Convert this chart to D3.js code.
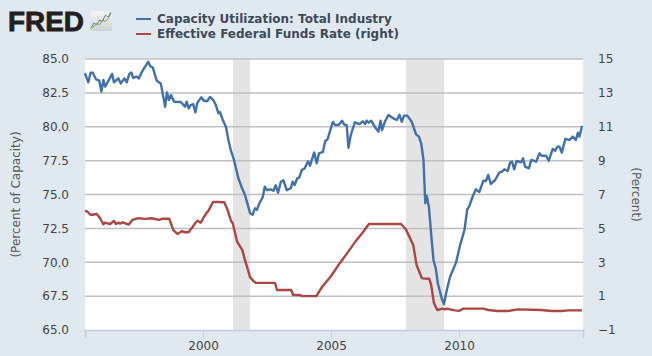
<!DOCTYPE html>
<html>
<head>
<meta charset="utf-8">
<script src="https://d3js.org/d3.v7.min.js"></script>
<style>
  html, body { margin: 0; padding: 0; background: #e1e9f0; }
  svg { display: block; }
  text { font-family: "DejaVu Sans", sans-serif; }
</style>
</head>
<body>
<div id="chart"></div>
<script>
// values, decimal years
const capYears = [1995.39,1995.52,1995.61,1995.69,1995.82,1995.95,1996.03,1996.11,1996.18,1996.45,1996.52,1996.69,1996.79,1996.93,1997.02,1997.12,1997.20,1997.28,1997.41,1997.49,1997.61,1997.86,1997.93,1998.04,1998.19,1998.35,1998.52,1998.59,1998.67,1998.75,1998.87,1999.13,1999.30,1999.36,1999.44,1999.52,1999.62,1999.70,1999.78,1999.93,2000.04,2000.17,2000.27,2000.40,2000.50,2000.60,2000.66,2000.77,2000.90,2000.99,2001.09,2001.21,2001.38,2001.51,2001.64,2001.84,2001.93,2002.03,2002.10,2002.20,2002.33,2002.41,2002.49,2002.64,2002.75,2002.84,2002.93,2003.04,2003.14,2003.27,2003.43,2003.50,2003.58,2003.68,2003.76,2003.86,2003.97,2004.10,2004.18,2004.34,2004.44,2004.53,2004.68,2004.77,2004.86,2005.07,2005.16,2005.31,2005.43,2005.52,2005.61,2005.68,2005.77,2005.93,2006.11,2006.24,2006.33,2006.39,2006.47,2006.57,2006.72,2006.85,2006.93,2006.99,2007.11,2007.24,2007.43,2007.57,2007.67,2007.76,2007.85,2007.98,2008.15,2008.32,2008.43,2008.52,2008.61,2008.68,2008.74,2008.82,2008.93,2009.00,2009.09,2009.17,2009.32,2009.41,2009.52,2009.65,2009.88,2010.04,2010.21,2010.32,2010.40,2010.54,2010.66,2010.79,2010.95,2011.05,2011.14,2011.24,2011.41,2011.57,2011.69,2011.77,2011.90,2011.99,2012.07,2012.15,2012.25,2012.43,2012.50,2012.58,2012.73,2012.82,2013.01,2013.14,2013.23,2013.40,2013.50,2013.66,2013.75,2013.84,2013.92,2014.01,2014.15,2014.31,2014.44,2014.56,2014.64,2014.70,2014.75,2014.80]
const capValues = [83.94,83.28,83.99,83.99,83.5,83.4,82.6,83.45,82.96,83.9,83.28,83.57,83.2,83.57,83.28,83.9,84,83.6,83.7,83.57,84.04,84.8,84.5,84.36,83.4,83.2,81.48,82.54,81.97,82.34,81.85,81.83,81.48,81.85,81.36,81.6,81.66,81.06,81.78,82.17,81.9,81.9,82.2,81.97,81.6,81,81.09,80.5,79.96,79.02,78.23,77.55,76.2,75.53,74.96,73.61,73.5,73.98,73.86,74.35,74.8,75.58,75.33,75.38,75.28,75.68,75.13,75.94,76.05,75.33,75.46,75.94,75.7,76.2,76.27,76.81,76.93,77.45,77.13,78.11,77.3,78.04,78.14,78.93,79.07,80.35,80.13,80.15,80.45,80.15,80.13,78.45,79.39,80.33,80.2,80.4,80.2,80.45,80.3,80.45,79.96,79.64,80.45,79.76,80.4,80.87,80.62,80.5,80.89,80.37,80.82,80.82,80.37,79.44,79.27,78.78,77.55,74.35,74.89,74.1,71.64,70.17,69.55,68.45,67.34,66.9,67.95,68.93,69.97,71.27,72.38,73.91,74.15,74.89,75.38,75.18,76.02,76,76.44,75.78,76.07,76.61,76.71,76.86,76.73,77.35,77.42,76.86,77.47,77.38,77.67,77.05,76.93,77.55,77.42,78.04,77.86,77.86,77.49,78.36,78.23,78.53,78.53,78.09,79.1,79.02,79.27,79.02,79.56,79.27,79.64,80.08]

const fedYears = [1995.39,1995.48,1995.61,1995.85,1995.98,1996.11,1996.15,1996.37,1996.52,1996.60,1996.70,1996.76,1996.86,1997.09,1997.24,1997.47,1997.73,1997.99,1998.29,1998.42,1998.68,1998.84,1999.00,1999.17,1999.30,1999.43,1999.60,1999.69,1999.78,1999.91,2000.08,2000.23,2000.39,2000.56,2000.83,2000.96,2001.09,2001.16,2001.33,2001.53,2001.62,2001.84,2001.96,2002.07,2002.81,2002.89,2003.44,2003.52,2003.79,2003.87,2004.42,2004.65,2005.00,2005.35,2005.66,2005.97,2006.25,2006.48,2006.71,2007.73,2007.92,2008.21,2008.34,2008.55,2008.83,2008.91,2009.02,2009.15,2009.35,2009.45,2009.51,2009.84,2010.02,2010.16,2010.55,2010.94,2011.15,2011.50,2011.90,2012.30,2013.21,2013.60,2014.01,2014.26,2014.80]
const fedValues = [6.05,5.99,5.79,5.85,5.6,5.24,5.34,5.26,5.44,5.26,5.34,5.28,5.36,5.22,5.5,5.6,5.56,5.6,5.5,5.57,5.57,4.9,4.67,4.83,4.77,4.77,5.1,5.3,5.45,5.34,5.79,6.09,6.56,6.56,6.54,6.09,5.45,5.3,4.22,3.73,3.23,2.11,1.9,1.78,1.78,1.36,1.36,1.07,1.07,1.0,1.0,1.54,2.19,2.96,3.6,4.26,4.79,5.26,5.26,5.26,4.95,4.02,2.84,2.05,2.03,1.66,0.58,0.18,0.26,0.22,0.26,0.16,0.14,0.26,0.26,0.26,0.18,0.12,0.12,0.22,0.18,0.12,0.12,0.16,0.16]

const recessions = [[2001.17, 2001.84], [2007.93, 2009.42]]
const leftTicks = [65, 67.5, 70, 72.5, 75, 77.5, 80, 82.5, 85]
const rightTicks = [-1, 1, 3, 5, 7, 9, 11, 13, 15]
const yearTicks = [2000, 2005, 2010]
const seriesNames = ['Capacity Utilization: Total Industry', 'Effective Federal Funds Rate (right)']
const seriesColors = ['#4171a8', '#aa4643']
// small logo chart marks
const iconBlue = [0, 3, 2, 5, 4, 8, 7, 10]
const iconGreen = [0, 1, 3, 2, 5, 4, 6, 9]

const width = 652
const height = 356
const margin = { top: 59, right: 69, bottom: 26, left: 85 }
const textColor = '#3e4a59'

const svg = d3.select('#chart').append('svg')
  .attr('width', width)
  .attr('height', height)

const x = d3.scaleLinear().domain([1995.39, 2014.84]).range([margin.left, width - margin.right])
const yLeft = d3.scaleLinear().domain([65, 85]).range([height - margin.bottom, margin.top])
const yRight = d3.scaleLinear().domain([-1, 15]).range([height - margin.bottom, margin.top])

/**
 * Draws the FRED mark and the small sparkline icon.
 */
function drawLogo () {
  svg.append('text')
    .attr('x', 8)
    .attr('y', 31)
    .attr('font-size', 27.5)
    .attr('font-weight', 700)
    .attr('textLength', 76)
    .attr('lengthAdjust', 'spacingAndGlyphs')
    .style('font-family', '"Liberation Sans", sans-serif')
    .attr('fill', '#231f20')
    .attr('stroke', '#231f20')
    .attr('stroke-width', 0.8)
    .text('FRED')

  const defs = svg.append('defs')
  const grad = defs.append('linearGradient').attr('id', 'icon-bg')
    .attr('x1', 0).attr('y1', 0).attr('x2', 0).attr('y2', 1)
  grad.append('stop').attr('offset', '0%').attr('stop-color', '#f4f6f7')
  grad.append('stop').attr('offset', '100%').attr('stop-color', '#cdd2d4')

  svg.append('rect')
    .attr('x', 90).attr('y', 11).attr('width', 22).attr('height', 20).attr('rx', 2)
    .attr('fill', 'url(#icon-bg)')

  const ix = d3.scaleLinear().domain([0, 7]).range([91, 111])
  const iy = d3.scaleLinear().domain([0, 10]).range([28, 12])
  const iconLine = d3.line().x((d, i) => ix(i)).y(d => iy(d))
  svg.append('path').attr('d', iconLine(iconBlue))
    .attr('fill', 'none').attr('stroke', '#5b86a8').attr('stroke-width', 1)
  svg.append('path').attr('d', iconLine(iconGreen))
    .attr('fill', 'none').attr('stroke', '#7fa53f').attr('stroke-width', 1)
}

/**
 * Draws the two entry legend next to the logo.
 */
function drawLegend () {
  seriesNames.forEach((name, i) => {
    const rowY = 19 + i * 15
    svg.append('line')
      .attr('x1', 136).attr('x2', 151)
      .attr('y1', rowY).attr('y2', rowY)
      .attr('stroke', seriesColors[i])
      .attr('stroke-width', 2)
    svg.append('text')
      .attr('x', 157)
      .attr('y', rowY + 4)
      .attr('font-size', 12)
      .attr('font-weight', 700)
      .attr('fill', textColor)
      .text(name)
  })
}

/**
 * Draws the plot background, recession bands and grid.
 */
function drawPlot () {
  svg.append('rect')
    .attr('x', margin.left)
    .attr('y', margin.top)
    .attr('width', width - margin.left - margin.right)
    .attr('height', height - margin.top - margin.bottom)
    .attr('fill', '#fff')

  svg.selectAll('.recession')
    .data(recessions)
    .join('rect')
    .attr('class', 'recession')
    .attr('x', d => x(d[0]))
    .attr('y', margin.top)
    .attr('width', d => x(d[1]) - x(d[0]))
    .attr('height', height - margin.top - margin.bottom)
    .attr('fill', '#e4e4e4')

  svg.selectAll('.grid')
    .data(leftTicks.slice(1))
    .join('line')
    .attr('class', 'grid')
    .attr('x1', margin.left)
    .attr('x2', width - margin.right)
    .attr('y1', d => yLeft(d))
    .attr('y2', d => yLeft(d))
    .attr('stroke', '#c0c0c0')
    .attr('stroke-width', 1.5)
}

/**
 * Draws the three axes and their titles.
 */
function drawAxes () {
  const bottom = svg.append('g')
    .attr('transform', `translate(0,${height - margin.bottom})`)
    .call(d3.axisBottom(x).tickValues(yearTicks).tickFormat(d3.format('d')).tickSize(8).tickPadding(3))
  bottom.select('.domain').attr('stroke', '#c0d0e0').attr('stroke-width', 1.5)
  bottom.selectAll('line').attr('stroke', '#c0d0e0')

  const left = svg.append('g')
    .attr('transform', `translate(${margin.left},0)`)
    .call(d3.axisLeft(yLeft).tickValues(leftTicks).tickFormat(d3.format('.1f')).tickSize(0).tickPadding(16))
  left.select('.domain').remove()

  const right = svg.append('g')
    .attr('transform', `translate(${width - margin.right},0)`)
    .call(d3.axisRight(yRight).tickValues(rightTicks).tickFormat(d3.format('d')).tickSize(0).tickPadding(15))
  right.select('.domain').remove()

  svg.selectAll('.tick text')
    .attr('font-size', 12)
    .style('font-family', '"DejaVu Sans", sans-serif')
    .attr('fill', '#444')

  svg.append('text')
    .attr('transform', `translate(20,${yLeft(75)}) rotate(-90)`)
    .attr('text-anchor', 'middle')
    .attr('font-size', 12)
    .attr('fill', '#5a5a5a')
    .text('(Percent of Capacity)')

  svg.append('text')
    .attr('transform', `translate(632,${yLeft(75)}) rotate(90)`)
    .attr('text-anchor', 'middle')
    .attr('font-size', 12)
    .attr('fill', '#5a5a5a')
    .text('(Percent)')
}

/**
 * Draws one series as a line.
 */
function drawSeries (years, values, yScale, color) {
  const line = d3.line()
    .x((d, i) => x(years[i]))
    .y(d => yScale(d))

  svg.append('path')
    .attr('d', line(values))
    .attr('fill', 'none')
    .attr('stroke', color)
    .attr('stroke-width', 2.4)
    .attr('stroke-linejoin', 'round')
}

drawLogo()
drawLegend()
drawPlot()
drawAxes()
drawSeries(fedYears, fedValues, yRight, seriesColors[1])
drawSeries(capYears, capValues, yLeft, seriesColors[0])
</script>
</body>
</html>
